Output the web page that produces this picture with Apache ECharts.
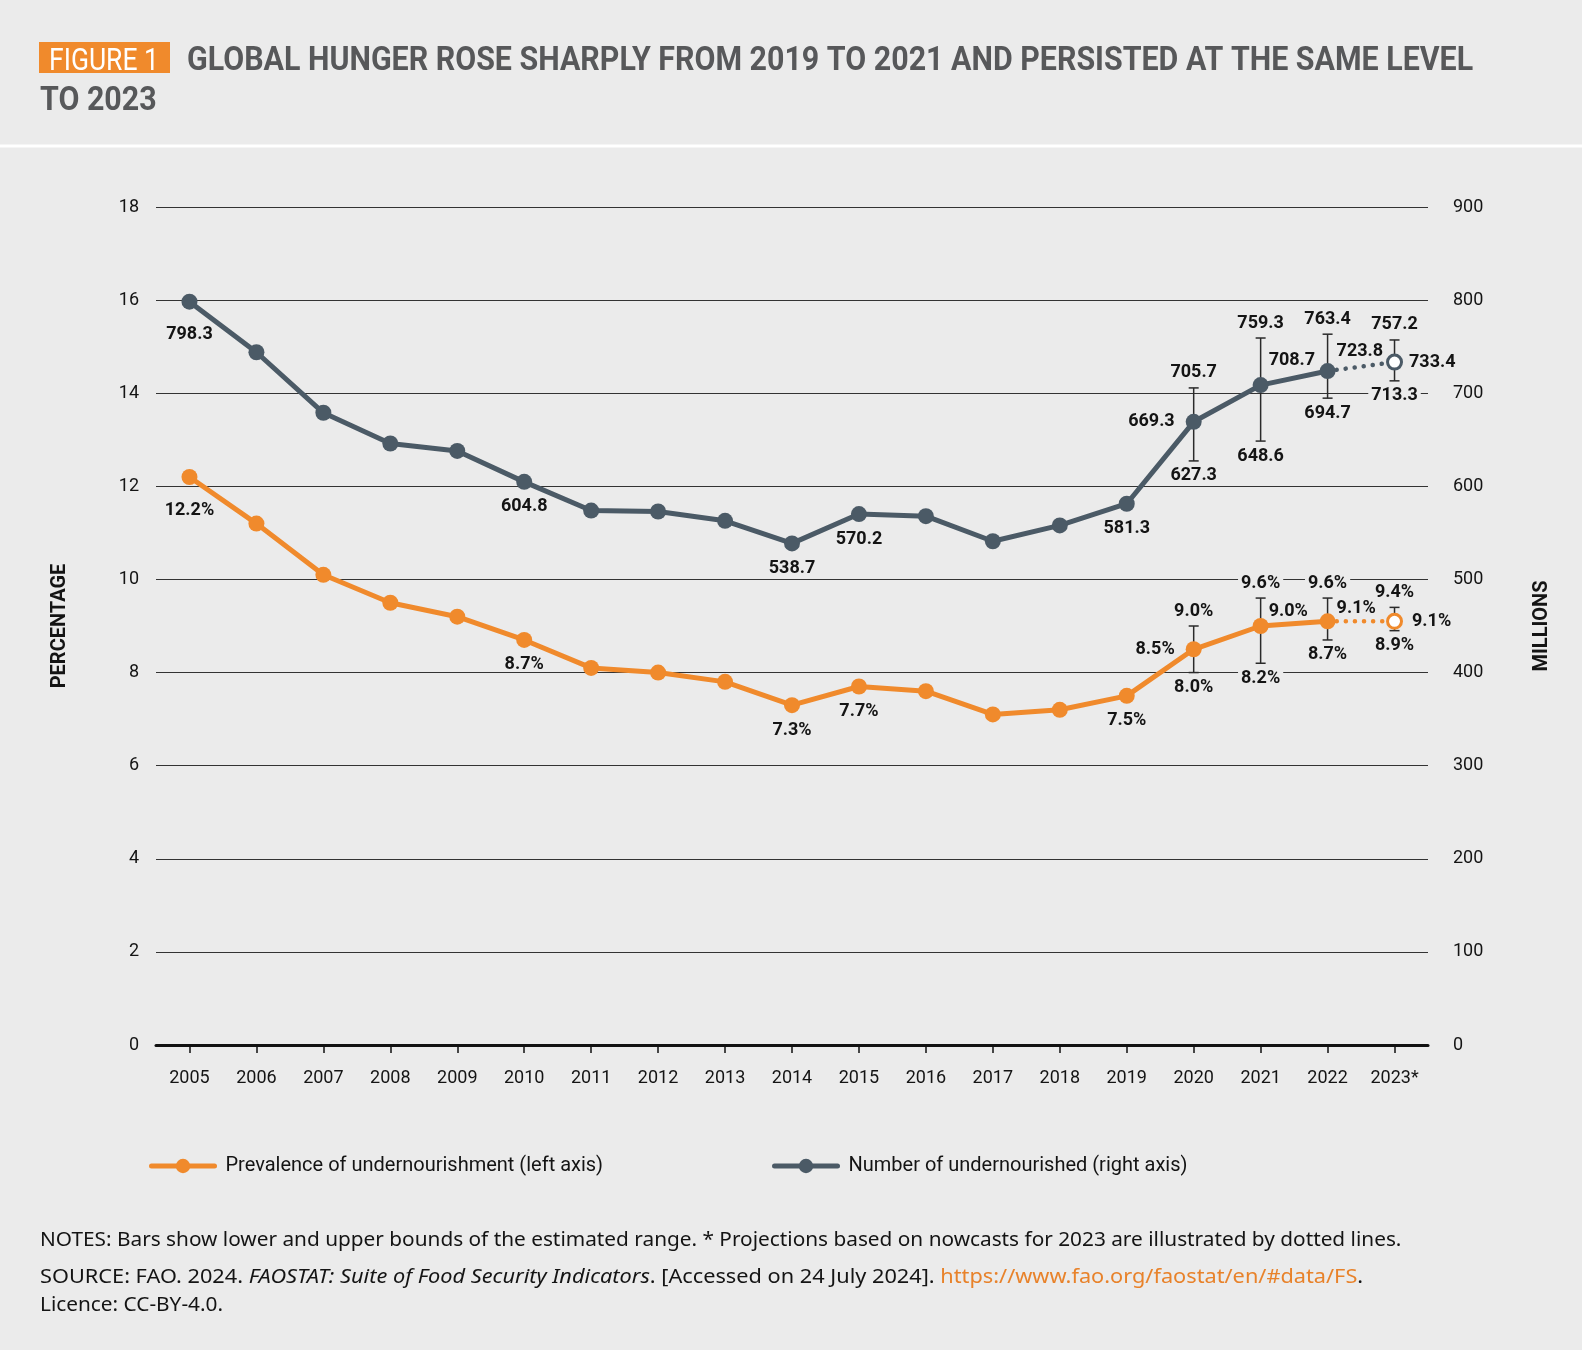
<!DOCTYPE html>
<html>
<head>
<meta charset="utf-8">
<script src="https://cdn.jsdelivr.net/npm/echarts@6/dist/echarts.min.js"></script>
<style>
html,body{margin:0;padding:0;background:#EBEBEB;}
#chart{width:1582px;height:1350px;}
</style>
</head>
<body>
<div id="chart"></div>
<script>
// ---------- DATA ----------
const years = ['2005','2006','2007','2008','2009','2010','2011','2012','2013','2014','2015','2016','2017','2018','2019','2020','2021','2022','2023*'];
const prevalence = [12.2, 11.2, 10.1, 9.5, 9.2, 8.7, 8.1, 8.0, 7.8, 7.3, 7.7, 7.6, 7.1, 7.2, 7.5, 8.5, 9.0, 9.1, null];
const prevalenceProjection = [null,null,null,null,null,null,null,null,null,null,null,null,null,null,null,null,null, 9.1, 9.1];
const undernourished = [798.3, 744.0, 679.0, 646.0, 638.0, 604.8, 574.0, 573.0, 563.0, 538.7, 570.2, 568.0, 541.0, 558.0, 581.3, 669.3, 708.7, 723.8, null];
const undernourishedProjection = [null,null,null,null,null,null,null,null,null,null,null,null,null,null,null,null,null, 723.8, 733.4];
const rangeYears = ['2020','2021','2022','2023*'];
const prevalenceLow = [8.0, 8.2, 8.7, 8.9];
const prevalenceHigh = [9.0, 9.6, 9.6, 9.4];
const undernourishedLow = [627.3, 648.6, 694.7, 713.3];
const undernourishedHigh = [705.7, 759.3, 763.4, 757.2];
const leftTicks = {min: 0, max: 18, interval: 2};
const rightTicks = {min: 0, max: 900, interval: 100};

// ---------- STYLE ----------
const ORANGE = '#F08A2C';
const SLATE = '#4B5A66';
const BG = '#EBEBEB';
const FONT = 'Roboto, "Noto Sans", sans-serif';
const NOTEFONT = '"Noto Sans", sans-serif';
const TXT = '#141414';

const labelBase = {
  show: true, fontFamily: FONT, fontWeight: 'bold', fontSize: 18, lineHeight: 16, color: TXT,
  padding: [0, 2]
};
// label placement per category index (styling only)
const prevLabelPos = {
  0: {position: 'bottom', distance: 9, offset: [0, 8]},
  5: {position: 'bottom', distance: 9},
  9: {position: 'bottom', distance: 9},
  10: {position: 'bottom', distance: 9},
  14: {position: 'bottom', distance: 9},
  15: {position: 'left', distance: 9},
  16: {position: 'right', distance: 5, offset: [-7, -15]},
  17: {position: 'right', distance: 5, offset: [-6, -13]},
  18: {position: 'right', distance: 7}
};
const numLabelPos = {
  0: {position: 'bottom', distance: 9, offset: [0, 8]},
  5: {position: 'bottom', distance: 9},
  9: {position: 'bottom', distance: 9},
  10: {position: 'bottom', distance: 9},
  14: {position: 'bottom', distance: 9},
  15: {position: 'left', distance: 9},
  16: {position: 'right', distance: 5, offset: [-7, -25]},
  17: {position: 'right', distance: 5, offset: [-6, -20]},
  18: {position: 'right', distance: 4}
};
const fmtPct = v => v.toFixed(1) + '%';
const fmtNum = v => v.toFixed(1);

function buildData(values, posMap, fmt) {
  return values.map((v, i) => {
    if (v === null) return null;
    const item = {value: v};
    if (posMap[i]) {
      item.label = Object.assign({}, labelBase, posMap[i], {formatter: () => fmt(v)});
    }
    return item;
  });
}
function buildProj(values, posMap, fmt, color) {
  return values.map((v, i) => {
    if (v === null) return null;
    const item = {value: v};
    if (i === values.length - 1) {
      item.symbol = 'circle';
      item.symbolSize = 14;
      item.itemStyle = {color: '#FFFFFF', borderColor: color, borderWidth: 3};
      item.label = Object.assign({}, labelBase, posMap[i], {formatter: () => fmt(v)});
    } else {
      item.symbol = 'none';
    }
    return item;
  });
}

function errRender(fmt) {
  return function (params, api) {
    const x = api.value(0);
    const lo = api.value(1), hi = api.value(2);
    const pL = api.coord([x, lo]);
    const pH = api.coord([x, hi]);
    const cap = 5;
    const st = {stroke: '#2A2A2A', lineWidth: 1.5};
    const ts = (t, yy) => ({
      type: 'text', x: pH[0], y: yy,
      style: {text: t, align: 'center', verticalAlign: 'middle', fontFamily: FONT,
        fontWeight: 'bold', fontSize: 18, lineHeight: 16, fill: TXT, backgroundColor: BG, padding: [1, 3]}
    });
    return {
      type: 'group',
      children: [
        {type: 'line', shape: {x1: pL[0], y1: pL[1], x2: pH[0], y2: pH[1]}, style: st},
        {type: 'line', shape: {x1: pL[0] - cap, y1: pL[1], x2: pL[0] + cap, y2: pL[1]}, style: st},
        {type: 'line', shape: {x1: pH[0] - cap, y1: pH[1], x2: pH[0] + cap, y2: pH[1]}, style: st},
        ts(fmt(hi), pH[1] - 15),
        ts(fmt(lo), pL[1] + 15)
      ]
    };
  };
}

const prevRange = rangeYears.map((y, i) => [y, prevalenceLow[i], prevalenceHigh[i]]);
const numRange = rangeYears.map((y, i) => [y, undernourishedLow[i], undernourishedHigh[i]]);

const LEG1 = 'Prevalence of undernourishment (left axis)';
const LEG2 = 'Number of undernourished (right axis)';

const legendBase = {
  top: 1156, padding: 0, itemWidth: 63, itemHeight: 18,
  lineStyle: {width: 5, cap: 'round'},
  textStyle: {fontFamily: FONT, fontSize: 20, color: TXT, padding: [0, 0, 0, 6]}
};

const chart = echarts.init(document.getElementById('chart'), null, {renderer: 'canvas'});
chart.setOption({
  backgroundColor: BG,
  animation: false,
  grid: {left: 156, right: 154, top: 207, bottom: 305, containLabel: false},
  legend: [
    Object.assign({data: [LEG1], left: 149}, legendBase),
    Object.assign({data: [LEG2], left: 772}, legendBase)
  ],
  xAxis: {
    type: 'category', data: years, boundaryGap: true,
    axisLine: {show: true, lineStyle: {color: '#111', width: 3}},
    axisTick: {show: true, alignWithLabel: true, length: 8, lineStyle: {color: '#111', width: 1.5}},
    axisLabel: {fontFamily: FONT, fontSize: 18, color: TXT, margin: 24},
    splitLine: {show: false}
  },
  yAxis: [
    {
      type: 'value', min: leftTicks.min, max: leftTicks.max, interval: leftTicks.interval,
      name: 'PERCENTAGE', nameLocation: 'middle', nameGap: 86, nameRotate: 90,
      nameTextStyle: {fontFamily: FONT, fontWeight: 'bold', fontSize: 20, color: TXT},
      axisLine: {show: false}, axisTick: {show: false},
      axisLabel: {fontFamily: FONT, fontSize: 18, color: TXT, margin: 17},
      splitLine: {show: true, lineStyle: {color: '#333', width: 1}}
    },
    {
      type: 'value', min: rightTicks.min, max: rightTicks.max, interval: rightTicks.interval,
      name: 'MILLIONS', nameLocation: 'middle', nameGap: 104, nameRotate: 90,
      nameTextStyle: {fontFamily: FONT, fontWeight: 'bold', fontSize: 20, color: TXT},
      axisLine: {show: false}, axisTick: {show: false},
      axisLabel: {fontFamily: FONT, fontSize: 18, color: TXT, margin: 25, align: 'left'},
      splitLine: {show: false}
    }
  ],
  series: [
    {
      type: 'custom', name: 'prevRange', yAxisIndex: 0, z: 1,
      renderItem: errRender(fmtPct), data: prevRange, encode: {x: 0, y: [1, 2]}
    },
    {
      type: 'custom', name: 'numRange', yAxisIndex: 1, z: 1,
      renderItem: errRender(fmtNum), data: numRange, encode: {x: 0, y: [1, 2]}
    },
    {
      type: 'line', name: LEG1, yAxisIndex: 0, z: 3,
      data: buildData(prevalence, prevLabelPos, fmtPct),
      symbol: 'circle', symbolSize: 16, showAllSymbol: true,
      lineStyle: {color: ORANGE, width: 5}, itemStyle: {color: ORANGE},
      label: {show: false}
    },
    {
      type: 'line', name: 'prevProj', yAxisIndex: 0, z: 3,
      data: buildProj(prevalenceProjection, prevLabelPos, fmtPct, ORANGE),
      showAllSymbol: true,
      lineStyle: {color: ORANGE, width: 4.5, type: [0.1, 9], cap: 'round'},
      itemStyle: {color: ORANGE}, label: {show: false}
    },
    {
      type: 'line', name: LEG2, yAxisIndex: 1, z: 3,
      data: buildData(undernourished, numLabelPos, fmtNum),
      symbol: 'circle', symbolSize: 16, showAllSymbol: true,
      lineStyle: {color: SLATE, width: 5}, itemStyle: {color: SLATE},
      label: {show: false}
    },
    {
      type: 'line', name: 'numProj', yAxisIndex: 1, z: 3,
      data: buildProj(undernourishedProjection, numLabelPos, fmtNum, SLATE),
      showAllSymbol: true,
      lineStyle: {color: SLATE, width: 4.5, type: [0.1, 9], cap: 'round'},
      itemStyle: {color: SLATE}, label: {show: false}
    }
  ],
  graphic: [
    {type: 'line', shape: {x1: 0, y1: 146, x2: 1582, y2: 146}, style: {stroke: '#FFFFFF', lineWidth: 3}},
    {type: 'rect', shape: {x: 39, y: 42, width: 131, height: 31}, style: {fill: ORANGE}},
    {type: 'text', x: 104, y: 62, scaleY: 1.2,
      style: {text: 'FIGURE 1', align: 'center', verticalAlign: 'middle', fontFamily: FONT, fontSize: 26.5, fill: '#FFFFFF'}},
    {type: 'text', x: 187, y: 62, scaleY: 1.1,
      style: {text: 'GLOBAL HUNGER ROSE SHARPLY FROM 2019 TO 2021 AND PERSISTED AT THE SAME LEVEL', align: 'left', verticalAlign: 'middle',
        fontFamily: FONT, fontWeight: 'bold', fontSize: 30.4, fill: '#57585A'}},
    {type: 'text', x: 40, y: 101.5, scaleY: 1.1,
      style: {text: 'TO 2023', align: 'left', verticalAlign: 'middle',
        fontFamily: FONT, fontWeight: 'bold', fontSize: 30.4, fill: '#57585A'}},
    {type: 'text', x: 40, y: 1240,
      style: {text: 'NOTES: Bars show lower and upper bounds of the estimated range. * Projections based on nowcasts for 2023 are illustrated by dotted lines.',
        align: 'left', verticalAlign: 'middle', fontFamily: NOTEFONT, fontSize: 20.8, fill: TXT}},
    {type: 'text', x: 40, y: 1277, scaleX: 1.045,
      style: {text: '{n|SOURCE: FAO. 2024. }{i|FAOSTAT: Suite of Food Security Indicators}{n|. [Accessed on 24 July 2024]. }{a|https://www.fao.org/faostat/en/#data/FS}{n|.}',
        align: 'left', verticalAlign: 'middle', fontFamily: NOTEFONT, fontSize: 20.8, fill: TXT,
        rich: {
          n: {fontFamily: NOTEFONT, fontSize: 20.8, fill: TXT},
          i: {fontFamily: NOTEFONT, fontSize: 20.8, fill: TXT, fontStyle: 'italic'},
          a: {fontFamily: NOTEFONT, fontSize: 20.8, fill: '#E8822A'}
        }}},
    {type: 'text', x: 40, y: 1305,
      style: {text: 'Licence: CC-BY-4.0.', align: 'left', verticalAlign: 'middle', fontFamily: NOTEFONT, fontSize: 20.8, fill: TXT}}
  ]
});
</script>
</body>
</html>
